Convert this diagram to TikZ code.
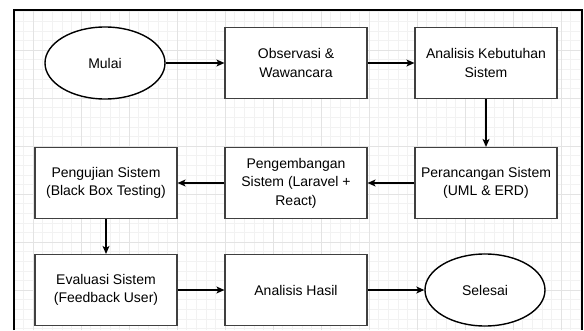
\documentclass[tikz,border=0pt]{standalone}
\usepackage{fontspec}
\setmainfont{Liberation Sans}
\usetikzlibrary{arrows.meta,shapes.geometric}

\begin{document}
\begin{tikzpicture}[x=1pt, y=1pt,
    box/.style={draw=black!75, line width=1.2pt, fill=white, minimum width=142pt, minimum height=71pt, align=center, inner sep=2pt},
    terminal/.style={ellipse, draw=black, line width=1.4pt, fill=white, minimum width=120pt, minimum height=72pt, inner sep=0pt},
    flow/.style={line width=1.1pt, -{Stealth[length=8pt, width=7pt, inset=2pt]}}]
  \useasboundingbox (0,0) rectangle (584,330);
  \fontsize{14}{18.5}\selectfont

  % Grid background (minor and major lines)
  \begin{scope}[shift={(33,40)}]
    \draw[black!5, line width=0.5pt] (-19,-40) grid[step=9.6] (549,280);
    \draw[black!11, line width=0.6pt] (-19,-40) grid[step=48] (549,280);
  \end{scope}

  % Outer frame (open at the bottom)
  \draw[black, line width=1.6pt] (14,0) -- (14,320) -- (582,320) -- (582,0);

  % Start and end
  \node[terminal] (mulai) at (105,267) {Mulai};
  \node[terminal] (selesai) at (485,40) {Selesai};

  % Process steps
  \node[box] (observasi) at (296,267) {Observasi \&\\Wawancara};
  \node[box] (kebutuhan) at (486,267) {Analisis Kebutuhan\\Sistem};
  \node[box] (perancangan) at (486,147) {Perancangan Sistem\\(UML \& ERD)};
  \node[box] (pengembangan) at (296,147) {Pengembangan\\Sistem (Laravel +\\React)};
  \node[box] (pengujian) at (106,147) {Pengujian Sistem\\(Black Box Testing)};
  \node[box] (evaluasi) at (106,40) {Evaluasi Sistem\\(Feedback User)};
  \node[box] (hasil) at (296,40) {Analisis Hasil};

  % Flow arrows
  \draw[flow] (mulai) -- (observasi);
  \draw[flow] (observasi) -- (kebutuhan);
  \draw[flow] (kebutuhan) -- (perancangan);
  \draw[flow] (perancangan) -- (pengembangan);
  \draw[flow] (pengembangan) -- (pengujian);
  \draw[flow] (pengujian) -- (evaluasi);
  \draw[flow] (evaluasi) -- (hasil);
  \draw[flow] (hasil) -- (selesai);
\end{tikzpicture}
\end{document}
